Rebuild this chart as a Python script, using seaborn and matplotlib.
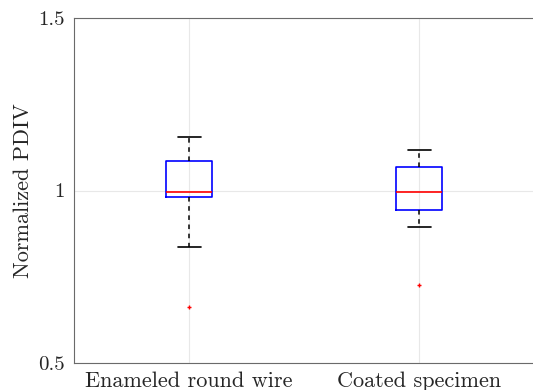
import pandas as pd
import matplotlib
matplotlib.use("Agg")
import matplotlib.pyplot as plt
import seaborn as sns

# -------------------------
# Data (normalized PDIV samples)
# -------------------------
categories = ["Enameled round wire", "Coated specimen"]
enameled_vals = [0.662, 0.837, 0.980, 0.990, 0.997, 1.030, 1.085, 1.120, 1.156]
coated_vals = [0.726, 0.895, 0.943, 0.970, 0.996, 1.030, 1.067, 1.090, 1.117]
y_ticks = [0.5, 1, 1.5]
y_tick_labels = ["0.5", "1", "1.5"]

df = pd.DataFrame({
    "specimen": [categories[0]] * len(enameled_vals) + [categories[1]] * len(coated_vals),
    "pdiv": enameled_vals + coated_vals,
})

# -------------------------
# Style (MATLAB-like look)
# -------------------------
sns.set_style("white")
plt.rcParams["font.family"] = ["serif"]
plt.rcParams["font.serif"] = ["cmr10", "DejaVu Serif"]
plt.rcParams["axes.formatter.use_mathtext"] = True

axis_col = "#6a6a6a"
text_col = "#262626"

fig = plt.figure(figsize=(5.33, 3.90), dpi=100)
ax = fig.add_axes([74 / 533, 27 / 390, 460 / 533, 345 / 390])

sns.boxplot(
    data=df, x="specimen", y="pdiv", ax=ax,
    width=0.2, whis=1.5, fill=False, linewidth=1.2,
    boxprops=dict(color="#0000ff", linewidth=1.2),
    medianprops=dict(color="#ff0000", linewidth=1.2),
    whiskerprops=dict(color="#000000", linestyle=(0, (3, 3)), linewidth=1.1),
    capprops=dict(color="#000000", linewidth=1.2),
    flierprops=dict(marker="+", markeredgecolor="#ff0000", markersize=3.5,
                    markeredgewidth=1.0),
)

ax.set_xlim(-0.5, 1.5)
ax.set_ylim(0.5, 1.5)
ax.set_yticks(y_ticks)
ax.set_yticklabels(y_tick_labels)

ax.set_xlabel("")
ax.set_ylabel("Normalized PDIV", fontsize=16, color=text_col, labelpad=3)

ax.grid(True, color="#e8e8e8", linewidth=0.8)
ax.set_axisbelow(True)

for side in ["left", "bottom", "top", "right"]:
    ax.spines[side].set_visible(True)
    ax.spines[side].set_color(axis_col)
    ax.spines[side].set_linewidth(0.8)

ax.tick_params(axis="both", direction="in", length=4, width=0.6, color=axis_col)
ax.tick_params(axis="y", labelsize=15, labelcolor=text_col, pad=7)
ax.tick_params(axis="x", labelsize=16, labelcolor=text_col, pad=6)

plt.savefig("out.png", dpi=100)
plt.close()
